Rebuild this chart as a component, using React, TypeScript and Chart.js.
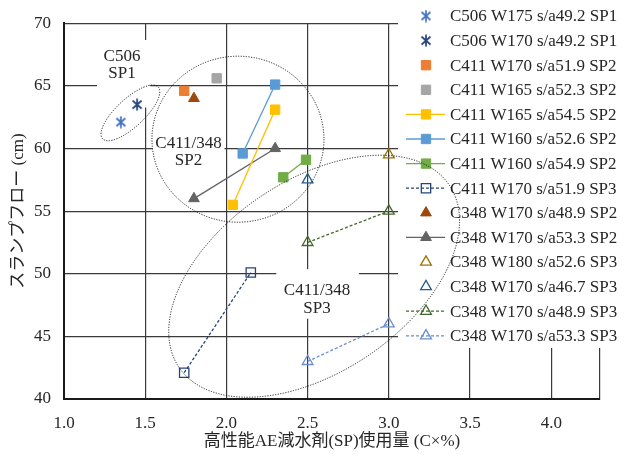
import React, { useEffect, useRef } from 'react';
import { Chart, registerables } from 'chart.js';

Chart.register(...registerables);

// ---------- data ----------
const seriesLabels = [
  'C506 W175 s/a49.2 SP1',
  'C506 W170 s/a49.2 SP1',
  'C411 W170 s/a51.9 SP2',
  'C411 W165 s/a52.3 SP2',
  'C411 W165 s/a54.5 SP2',
  'C411 W160 s/a52.6 SP2',
  'C411 W160 s/a54.9 SP2',
  'C411 W170 s/a51.9 SP3',
  'C348 W170 s/a48.9 SP2',
  'C348 W170 s/a53.3 SP2',
  'C348 W180 s/a52.6 SP3',
  'C348 W170 s/a46.7 SP3',
  'C348 W170 s/a48.9 SP3',
  'C348 W170 s/a53.3 SP3',
];

const c506w175sp1X = [1.35];
const c506w175sp1Y = [62.1];
const c506w170sp1X = [1.45];
const c506w170sp1Y = [63.5];
const c411w170a519sp2X = [1.74];
const c411w170a519sp2Y = [64.6];
const c411w165a523sp2X = [1.94];
const c411w165a523sp2Y = [65.6];
const c411w165a545sp2X = [2.04, 2.3];
const c411w165a545sp2Y = [55.5, 63.1];
const c411w160a526sp2X = [2.1, 2.3];
const c411w160a526sp2Y = [59.6, 65.1];
const c411w160a549sp2X = [2.35, 2.49];
const c411w160a549sp2Y = [57.7, 59.1];
const c411w170a519sp3X = [1.74, 2.15];
const c411w170a519sp3Y = [42.1, 50.1];
const c348w170a489sp2X = [1.8];
const c348w170a489sp2Y = [64.0];
const c348w170a533sp2X = [2.3, 1.8];
const c348w170a533sp2Y = [60.0, 56.0];
const c348w180a526sp3X = [3.0];
const c348w180a526sp3Y = [59.5];
const c348w170a467sp3X = [2.5];
const c348w170a467sp3Y = [57.5];
const c348w170a489sp3X = [2.5, 3.0];
const c348w170a489sp3Y = [52.5, 55.0];
const c348w170a533sp3X = [2.5, 3.0];
const c348w170a533sp3Y = [43.0, 46.0];

const xTickValues = [1.0, 1.5, 2.0, 2.5, 3.0, 3.5, 4.0];
const yTickValues = [40, 45, 50, 55, 60, 65, 70];
const xMin = 1.0;
const xMax = 4.3;
const yMin = 40;
const yMax = 70;

const xTitle = '高性能AE減水剤(SP)使用量 (C×%)';
const yTitle = 'スランプフロー (cm)';

// group annotations (text + dotted ellipse), in data coordinates
const groupLabels = [
  { lines: ['C506', 'SP1'], x: 1.357, y: [67.35, 65.95], box: [1.203, 68.66, 1.530, 63.27] },
  { lines: ['C411/348', 'SP2'], x: 1.767, y: [60.4, 59.0], box: [1.546, 61.46, 1.988, 57.97] },
  { lines: ['C411/348', 'SP3'], x: 2.558, y: [48.65, 47.25], box: [2.307, 50.37, 2.816, 46.41] },
];
const groupEllipses = [
  { cx: 1.409, cy: 62.84, rx: 38, ry: 14, rot: -43 },
  { cx: 2.071, cy: 60.74, rx: 86, ry: 83, rot: 0 },
  { cx: 2.54, cy: 49.8, rx: 163, ry: 96, rot: -34 },
];

// ---------- styles ----------
type Marker = 'asterisk' | 'rect' | 'triangle';
interface Style { color: string; marker: Marker; filled: boolean; line: boolean; dash?: number[] }

const seriesX = [
  c506w175sp1X, c506w170sp1X, c411w170a519sp2X, c411w165a523sp2X, c411w165a545sp2X,
  c411w160a526sp2X, c411w160a549sp2X, c411w170a519sp3X, c348w170a489sp2X, c348w170a533sp2X,
  c348w180a526sp3X, c348w170a467sp3X, c348w170a489sp3X, c348w170a533sp3X,
];
const seriesY = [
  c506w175sp1Y, c506w170sp1Y, c411w170a519sp2Y, c411w165a523sp2Y, c411w165a545sp2Y,
  c411w160a526sp2Y, c411w160a549sp2Y, c411w170a519sp3Y, c348w170a489sp2Y, c348w170a533sp2Y,
  c348w180a526sp3Y, c348w170a467sp3Y, c348w170a489sp3Y, c348w170a533sp3Y,
];
const styles: Style[] = [
  { color: '#4472C4', marker: 'asterisk', filled: false, line: false },
  { color: '#264478', marker: 'asterisk', filled: false, line: false },
  { color: '#ED7D31', marker: 'rect', filled: true, line: false },
  { color: '#A5A5A5', marker: 'rect', filled: true, line: false },
  { color: '#FFC000', marker: 'rect', filled: true, line: true },
  { color: '#5B9BD5', marker: 'rect', filled: true, line: true },
  { color: '#70AD47', marker: 'rect', filled: true, line: true },
  { color: '#264478', marker: 'rect', filled: false, line: true, dash: [3, 2] },
  { color: '#9E480E', marker: 'triangle', filled: true, line: false },
  { color: '#636363', marker: 'triangle', filled: true, line: true },
  { color: '#997300', marker: 'triangle', filled: false, line: false },
  { color: '#255E91', marker: 'triangle', filled: false, line: false },
  { color: '#43682B', marker: 'triangle', filled: false, line: true, dash: [3, 2] },
  { color: '#698ED0', marker: 'triangle', filled: false, line: true, dash: [3, 2] },
];

const FONT_FAMILY = '"Liberation Serif", "Noto Sans CJK JP", serif';
const FONT_SIZE = 17;
const TEXT_COLOR = '#262626';
const RECT_R = 6.6;
const TRI_R = 6.2;

const LEGEND_LEFT = 398;
const LEGEND_BOTTOM = 348;
const LEGEND_ROW0 = 16;
const LEGEND_ROW_H = 24.6;
const LEGEND_MARK_X = 426;
const LEGEND_LINE_X0 = 406;
const LEGEND_LINE_X1 = 445;
const LEGEND_TEXT_X = 450;

function makeAsterisk(color: string): HTMLCanvasElement {
  const c = document.createElement('canvas');
  c.width = 12;
  c.height = 13;
  const g = c.getContext('2d')!;
  g.strokeStyle = color;
  g.lineWidth = 1.7;
  g.lineCap = 'butt';
  g.beginPath();
  g.moveTo(1.5, 2.5); g.lineTo(10.5, 10.5);
  g.moveTo(10.5, 2.5); g.lineTo(1.5, 10.5);
  g.moveTo(6, 0.5); g.lineTo(6, 12.5);
  g.stroke();
  return c;
}

function drawMarker(ctx: CanvasRenderingContext2D, s: Style, x: number, y: number, img?: HTMLCanvasElement) {
  ctx.save();
  ctx.setLineDash([]);
  if (s.marker === 'asterisk' && img) {
    ctx.drawImage(img, x - img.width / 2, y - img.height / 2);
    ctx.restore();
    return;
  }
  ctx.strokeStyle = s.color;
  ctx.fillStyle = s.color;
  ctx.lineWidth = s.filled ? 1 : 1.3;
  ctx.beginPath();
  if (s.marker === 'rect') {
    const h = RECT_R * Math.SQRT1_2;
    ctx.rect(x - h, y - h, 2 * h, 2 * h);
  } else {
    let rad = 0;
    ctx.moveTo(x + Math.sin(rad) * TRI_R, y - Math.cos(rad) * TRI_R);
    rad += (2 * Math.PI) / 3;
    ctx.lineTo(x + Math.sin(rad) * TRI_R, y - Math.cos(rad) * TRI_R);
    rad += (2 * Math.PI) / 3;
    ctx.lineTo(x + Math.sin(rad) * TRI_R, y - Math.cos(rad) * TRI_R);
    ctx.closePath();
  }
  if (s.filled) ctx.fill();
  ctx.stroke();
  ctx.restore();
}

export default function App() {
  const canvasRef = useRef<HTMLCanvasElement | null>(null);

  useEffect(() => {
    const canvas = canvasRef.current;
    if (!canvas) return;
    const asterImgs = styles.map((s) => (s.marker === 'asterisk' ? makeAsterisk(s.color) : undefined));

    const datasets = styles.map((s, i) => ({
      label: seriesLabels[i],
      data: seriesX[i].map((xv, j) => ({ x: xv, y: seriesY[i][j] })),
      showLine: s.line,
      borderColor: s.color,
      backgroundColor: s.filled ? s.color : 'rgba(0,0,0,0)',
      borderWidth: 1.3,
      borderDash: s.dash || [],
      pointStyle: s.marker === 'asterisk' ? asterImgs[i] : s.marker,
      pointRadius: s.marker === 'rect' ? RECT_R : TRI_R,
      pointBorderWidth: s.filled ? 1 : 1.3,
      pointBorderColor: s.color,
      pointBackgroundColor: s.filled ? s.color : 'rgba(0,0,0,0)',
      clip: false as any,
    }));

    const font = { family: FONT_FAMILY, size: FONT_SIZE };

    const annotPlugin = {
      id: 'groupsAndLegend',
      beforeDatasetsDraw(chart: any) {
        const { ctx, scales } = chart;
        const xs = scales.x;
        const ys = scales.y;
        ctx.save();
        ctx.fillStyle = '#ffffff';
        groupLabels.forEach((g) => {
          const x0 = xs.getPixelForValue(g.box[0]);
          const y0 = ys.getPixelForValue(g.box[1]);
          const x1 = xs.getPixelForValue(g.box[2]);
          const y1 = ys.getPixelForValue(g.box[3]);
          ctx.fillRect(x0, y0, x1 - x0, y1 - y0);
        });
        ctx.fillRect(LEGEND_LEFT, 0, chart.width - LEGEND_LEFT, LEGEND_BOTTOM);

        ctx.fillStyle = TEXT_COLOR;
        ctx.font = `${FONT_SIZE}px ${FONT_FAMILY}`;
        ctx.textAlign = 'center';
        ctx.textBaseline = 'middle';
        groupLabels.forEach((g) => {
          g.lines.forEach((t, k) => {
            ctx.fillText(t, xs.getPixelForValue(g.x), ys.getPixelForValue(g.y[k]));
          });
        });

        ctx.textAlign = 'left';
        styles.forEach((s, i) => {
          const ry = LEGEND_ROW0 + i * LEGEND_ROW_H;
          if (s.line) {
            ctx.save();
            ctx.strokeStyle = s.color;
            ctx.lineWidth = 1.3;
            ctx.setLineDash(s.dash || []);
            ctx.beginPath();
            ctx.moveTo(LEGEND_LINE_X0, ry);
            ctx.lineTo(LEGEND_LINE_X1, ry);
            ctx.stroke();
            ctx.restore();
          }
          drawMarker(ctx, s, LEGEND_MARK_X, ry, asterImgs[i]);
          ctx.fillStyle = TEXT_COLOR;
          ctx.fillText(seriesLabels[i], LEGEND_TEXT_X, ry + 1);
        });
        ctx.restore();
      },
      afterDatasetsDraw(chart: any) {
        const { ctx, scales } = chart;
        ctx.save();
        ctx.strokeStyle = '#111111';
        ctx.lineWidth = 1;
        ctx.setLineDash([1.1, 1.5]);
        groupEllipses.forEach((e) => {
          ctx.beginPath();
          ctx.ellipse(
            scales.x.getPixelForValue(e.cx),
            scales.y.getPixelForValue(e.cy),
            e.rx,
            e.ry,
            (e.rot * Math.PI) / 180,
            0,
            Math.PI * 2
          );
          ctx.stroke();
        });
        ctx.restore();
      },
    };

    const chart = new Chart(canvas, {
      type: 'scatter',
      data: { datasets: datasets as any },
      options: {
        animation: false,
        responsive: false,
        events: [],
        layout: { padding: { left: 0, top: 20, right: 26, bottom: 0 } },
        plugins: { legend: { display: false }, tooltip: { enabled: false } },
        scales: {
          x: {
            type: 'linear',
            min: xMin,
            max: xMax,
            afterBuildTicks: (scale: any) => {
              scale.ticks = [...xTickValues, xMax].map((v) => ({ value: v }));
            },
            afterFit: (scale: any) => {
              scale.height = 56;
            },
            grid: { color: '#3a3a3a', lineWidth: 1.2, drawTicks: false },
            border: { color: '#1a1a1a', width: 2 },
            ticks: {
              autoSkip: false,
              maxRotation: 0,
              padding: 14,
              font,
              color: TEXT_COLOR,
              callback: (v: any) => (xTickValues.includes(Number(v)) ? Number(v).toFixed(1) : ''),
            },
            title: { display: true, text: xTitle, font, color: TEXT_COLOR, padding: { top: 0, bottom: 3 } },
          },
          y: {
            type: 'linear',
            min: yMin,
            max: yMax,
            afterBuildTicks: (scale: any) => {
              scale.ticks = yTickValues.map((v) => ({ value: v }));
            },
            afterFit: (scale: any) => {
              scale.width = 64;
            },
            grid: { color: '#3a3a3a', lineWidth: 1.2, drawTicks: false },
            border: { color: '#1a1a1a', width: 2 },
            ticks: { padding: 13, font, color: TEXT_COLOR, callback: (v: any) => String(v) },
            title: { display: true, text: yTitle, font, color: TEXT_COLOR, padding: { top: 8, bottom: 0 } },
          },
        },
      },
      plugins: [annotPlugin],
    });

    return () => chart.destroy();
  }, []);

  return (
    <div style={{ position: 'absolute', left: 0, top: 0, width: 626, height: 455, background: '#fff' }}>
      <canvas ref={canvasRef} width={626} height={455} style={{ display: 'block', width: 626, height: 455 }} />
    </div>
  );
}
